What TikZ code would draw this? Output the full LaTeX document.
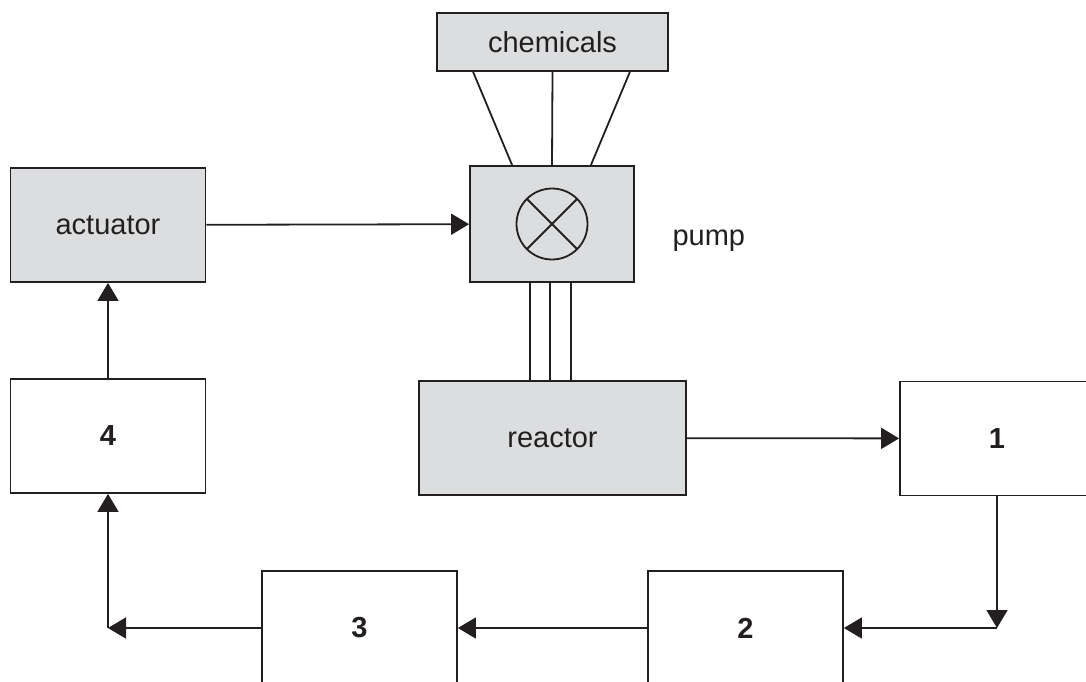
\documentclass[tikz,border=0pt]{standalone}
\usepackage{fontspec}
\setmainfont{Liberation Sans}
\usepackage{tikz}
\usetikzlibrary{arrows.meta}
\usetikzlibrary{calc}
\definecolor{panel}{RGB}{220,221,223}
\definecolor{ink}{RGB}{35,31,32}
\newcommand{\lblsize}{\fontsize{29}{34}\selectfont}
\pgfdeclarelayer{nodelayer}
\pgfdeclarelayer{edgelayer}
\pgfsetlayers{edgelayer,nodelayer,main}
\tikzset{unit/.style={draw=ink, line width=1.8pt, fill=white, inner sep=0pt,
minimum width=195pt, minimum height=114pt, font=\lblsize\bfseries}}
\tikzset{plant/.style={unit, fill=panel, font=\lblsize\mdseries}}
\tikzset{flow/.style={draw=ink, line width=1.8pt, -{Triangle[length=18pt,width=21pt]}}}
\tikzset{pipe/.style={draw=ink, line width=1.8pt}}
\tikzset{valve/.style={draw=ink, line width=1.8pt, circle, inner sep=0pt, minimum size=71pt}}

\begin{document}
\begin{tikzpicture}[x=1pt, y=-1pt, font=\lblsize, text=ink]
        \useasboundingbox (0,0) rectangle (1086,681);
        \begin{pgfonlayer}{nodelayer}
            \node [style=plant, minimum width=231pt, minimum height=58pt] (chem) at (552.5, 42) {chemicals};
            \node [style=plant] (act) at (108, 225) {actuator};
            \node [style=plant, minimum width=164pt, minimum height=116pt] (pump) at (552, 224) {};
            \node [style=valve] (cross) at (552, 224) {};
            \node [anchor=base west] (pumplbl) at (669, 245) {pump};
            \node [style=plant, minimum width=267pt] (reac) at (552.5, 438) {reactor};
            \node [style=unit] (u4) at (108, 436) {4};
            \node [style=unit, minimum width=194pt] (u1) at (997, 438.5) {1};
            \node [style=unit] (u2) at (745.5, 628) {2};
            \node [style=unit] (u3) at (359.5, 628) {3};
            \coordinate (c1) at (u1.south |- u2.east);
            \coordinate (c3) at (u4.south |- u3.west);
        \end{pgfonlayer}
        \begin{pgfonlayer}{edgelayer}
            \draw [style=pipe] ([xshift=37pt]chem.south west) to ([xshift=43pt]pump.north west);
            \draw [style=pipe] (chem.south) to (pump.north);
            \draw [style=pipe] ([xshift=-39pt]chem.south east) to ([xshift=-44pt]pump.north east);
            \foreach \dx in {-22,-2,19}
                \draw [style=pipe] ([xshift=\dx pt]pump.south) to ([xshift=\dx pt]pump.south |- reac.north);
        \end{pgfonlayer}
        \draw [style=pipe] (cross.north west) to (cross.south east);
        \draw [style=pipe] (cross.north east) to (cross.south west);
        \draw [style=flow] (act) to (pump);
        \draw [style=flow] (reac) to (u1);
        \draw [style=flow] (u1) to (c1);
        \draw [style=flow] (c1) to (u2);
        \draw [style=flow] (u2) to (u3);
        \draw [style=flow] (u3) to (c3);
        \draw [style=flow] (c3) to (u4);
        \draw [style=flow] (u4) to (act);
    \end{tikzpicture}
\end{document}
